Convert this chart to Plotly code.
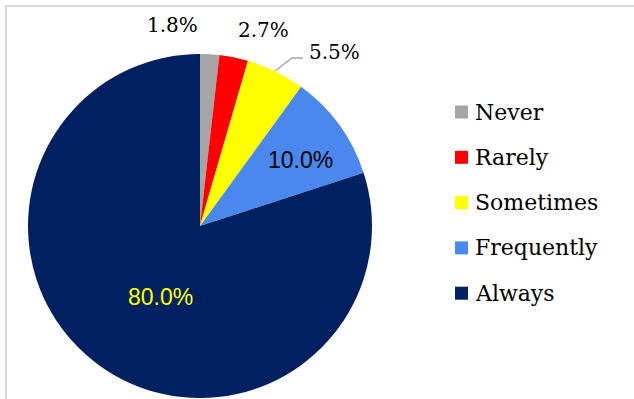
import plotly.graph_objects as go

categories = ["Never", "Rarely", "Sometimes", "Frequently", "Always"]
values = [1.8, 2.7, 5.5, 10.0, 80.0]
colors = ["#A5A5A5", "#FF0000", "#FFFF00", "#4A88EE", "#002060"]

W, H = 634, 399

def px(x):
    return x / W

def py(y):
    return 1 - y / H

cx, cy, r = 200, 226, 172

fig = go.Figure(go.Pie(
    labels=categories, values=values, sort=False, direction="clockwise",
    rotation=0, marker=dict(colors=colors, line=dict(width=0)),
    textinfo="none", hoverinfo="label+percent", showlegend=False,
    domain=dict(x=[px(cx - r), px(cx + r)], y=[py(cy + r), py(cy - r)]),
))

serif = "DejaVu Serif"
sans = "Liberation Sans"

# data label positions (pixels) for each slice
label_pos = [(172, 25), (263, 30), (334, 52), (300, 160), (160, 297)]
label_font = [
    dict(family=serif, size=20, color="#000000"),
    dict(family=serif, size=20, color="#000000"),
    dict(family=serif, size=20, color="#000000"),
    dict(family=sans, size=23, color="#000000"),
    dict(family=sans, size=23, color="#FFFF00"),
]
annotations = []
for v, (x, y), f in zip(values, label_pos, label_font):
    annotations.append(dict(
        x=px(x), y=py(y), xref="paper", yref="paper", text=f"{v:.1f}%",
        showarrow=False, font=f, xanchor="center", yanchor="middle"))

shapes = [
    # chart border (top and left visible)
    dict(type="rect", xref="paper", yref="paper", x0=px(6), x1=1.2,
         y0=-0.2, y1=py(6), line=dict(color="#D9D9D9", width=2)),
    # leader line for 5.5%
    dict(type="path", xref="paper", yref="paper",
         path=f"M {px(275)},{py(71)} L {px(292)},{py(58)} L {px(303)},{py(58)}",
         line=dict(color="#A6A6A6", width=1.5)),
]

# manual legend
leg_y0, leg_dy = 112, 45.3
for i, (cat, col) in enumerate(zip(categories, colors)):
    yc = leg_y0 + i * leg_dy
    shapes.append(dict(type="rect", xref="paper", yref="paper",
                       x0=px(455), x1=px(468), y0=py(yc + 6.5), y1=py(yc - 6.5),
                       fillcolor=col, line=dict(width=0)))
    annotations.append(dict(x=px(473), y=py(yc), xref="paper", yref="paper",
                            text=cat, showarrow=False, xanchor="left",
                            yanchor="middle",
                            font=dict(family=serif, size=22, color="#000000")))

fig.update_layout(
    width=W, height=H, margin=dict(l=0, r=0, t=0, b=0),
    paper_bgcolor="#FFFFFF", plot_bgcolor="#FFFFFF",
    annotations=annotations, shapes=shapes,
)

fig.write_html("out.html", config={"displayModeBar": False},
               post_script="document.body.style.margin='0';document.body.style.overflow='hidden';")
